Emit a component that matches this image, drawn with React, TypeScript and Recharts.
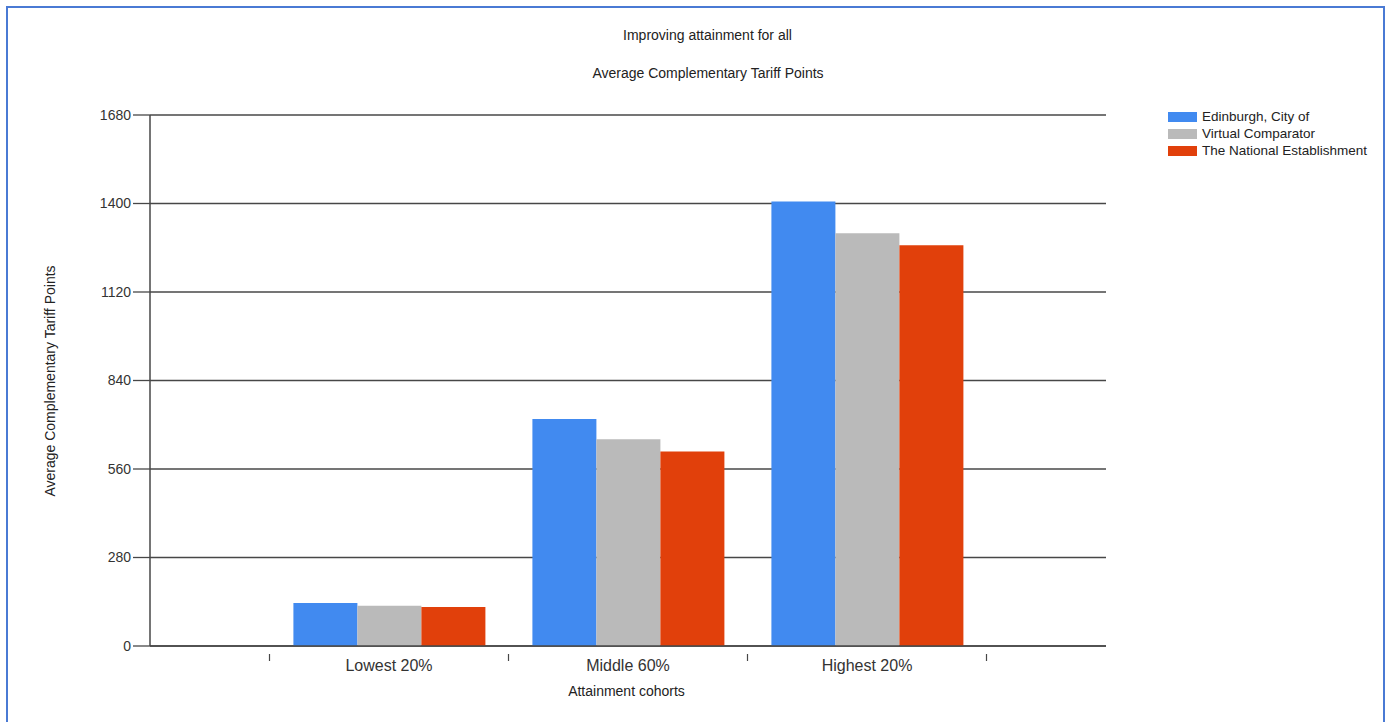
import React from "react";
import { BarChart, Bar, XAxis, YAxis, CartesianGrid, Legend } from "recharts";

const cohorts = ["Lowest 20%", "Middle 60%", "Highest 20%"];
const edinburgh = [136, 718, 1406];
const virtualComparator = [127, 654, 1306];
const nationalEstablishment = [123, 615, 1268];
const yTicks = [0, 280, 560, 840, 1120, 1400, 1680];

const seriesNames = ["Edinburgh, City of", "Virtual Comparator", "The National Establishment"];
const seriesKeys = ["edinburgh", "virtual", "national"];
const seriesColors = ["#418af0", "#bababa", "#e1400b"];

const data = cohorts.map((c, i) => ({
  cohort: c,
  edinburgh: edinburgh[i],
  virtual: virtualComparator[i],
  national: nationalEstablishment[i],
}));

const FONT = '"Liberation Sans", Arial, sans-serif';
const W = 1391;
const H = 722;
const M = { top: 115, right: 285, left: 0, bottom: 0 };
const Y_AXIS_W = 150;
const X_AXIS_H = 76;
const PLOT_W = W - M.left - M.right - Y_AXIS_W;
const EDGE_PAD = PLOT_W / 8;
const BAND = (PLOT_W - 2 * EDGE_PAD) / cohorts.length;
const AXIS_COLOR = "#474747";

// Category label at band centre, tick marks at band boundaries
const CohortTick = (props: any) => {
  const { x, y, payload, index } = props;
  const half = payload && payload.offset ? payload.offset : BAND / 2;
  const last = index === cohorts.length - 1;
  return (
    <g>
      <line x1={x - half} x2={x - half} y1={y} y2={y + 7} stroke={AXIS_COLOR} strokeWidth={1.2} />
      {last && <line x1={x + half} x2={x + half} y1={y} y2={y + 7} stroke={AXIS_COLOR} strokeWidth={1.2} />}
      <text x={x} y={y + 17} textAnchor="middle" fill="#333" fontSize={16} fontFamily={FONT}>
        {payload.value}
      </text>
    </g>
  );
};

const LegendBox = () => (
  <div style={{ fontFamily: FONT, fontSize: 13.5, color: "#222", lineHeight: "17px" }}>
    {seriesNames.map((n, i) => (
      <div key={n} style={{ display: "flex", alignItems: "center", height: 17 }}>
        <span style={{ display: "inline-block", width: 29, height: 10, background: seriesColors[i], marginRight: 5 }} />
        <span>{n}</span>
      </div>
    ))}
  </div>
);

const textStyle: React.CSSProperties = {
  position: "absolute",
  left: 0,
  textAlign: "center",
  fontFamily: FONT,
  fontSize: 14,
  lineHeight: "16px",
  color: "#222",
  whiteSpace: "nowrap",
};

export default function App() {
  return (
    <div style={{ position: "absolute", left: 0, top: 0, width: W, height: H, background: "#fff", overflow: "hidden" }}>
      <div style={{ position: "absolute", left: 0, top: 0 }}>
        <BarChart width={W} height={H} data={data} margin={M} barCategoryGap="10%" barGap={0}>
          <CartesianGrid vertical={false} stroke={AXIS_COLOR} strokeWidth={1.3} />
          <XAxis
            dataKey="cohort"
            height={X_AXIS_H}
            padding={{ left: EDGE_PAD, right: EDGE_PAD }}
            axisLine={{ stroke: AXIS_COLOR, strokeWidth: 1.5 }}
            tickLine={false}
            tick={<CohortTick />}
            interval={0}
          />
          <YAxis
            width={Y_AXIS_W}
            domain={[0, 1680]}
            ticks={yTicks}
            interval={0}
            axisLine={{ stroke: AXIS_COLOR, strokeWidth: 1.5 }}
            tickLine={{ stroke: AXIS_COLOR, strokeWidth: 1.3 }}
            tickSize={17}
            tickMargin={2}
            tick={{ fill: "#333", fontSize: 14, fontFamily: FONT }}
          />
          <Legend
            layout="vertical"
            align="center"
            verticalAlign="middle"
            wrapperStyle={{ position: "absolute", top: 108, left: 1168, width: 222 }}
            content={<LegendBox />}
          />
          {seriesKeys.map((k, i) => (
            <Bar key={k} dataKey={k} name={seriesNames[i]} fill={seriesColors[i]} isAnimationActive={false} />
          ))}
        </BarChart>
      </div>
      <div style={{ ...textStyle, width: 1415, top: 27 }}>Improving attainment for all</div>
      <div style={{ ...textStyle, width: 1416, top: 65 }}>Average Complementary Tariff Points</div>
      <div style={{ ...textStyle, left: 50, top: 381, transform: "translate(-50%, -50%) rotate(-90deg)" }}>
        Average Complementary Tariff Points
      </div>
      <div style={{ ...textStyle, width: 1253, top: 683 }}>Attainment cohorts</div>
      <div
        style={{
          position: "absolute",
          left: 6,
          top: 6,
          width: 1375,
          height: 740,
          border: "2px solid #4a7ad4",
          pointerEvents: "none",
          zIndex: 10,
        }}
      />
    </div>
  );
}
